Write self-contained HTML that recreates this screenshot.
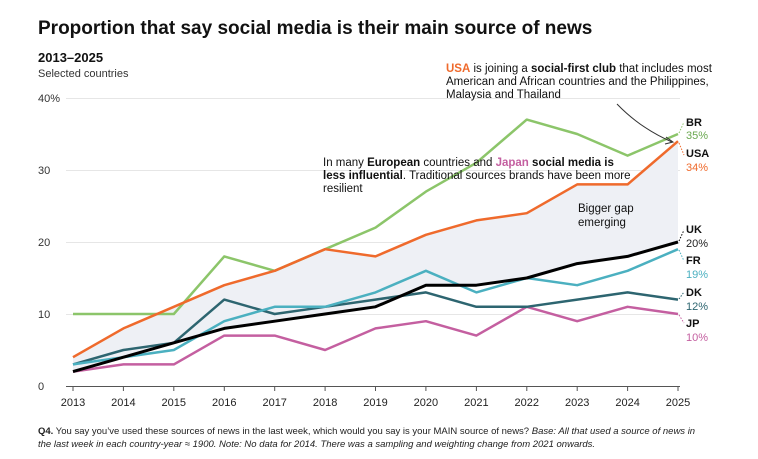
<!DOCTYPE html><html><head><style>
body{margin:0;background:#fff;font-family:"Liberation Sans",sans-serif;}
svg text{font-family:"Liberation Sans",sans-serif;}
</style></head><body>
<svg width="758" height="454" xmlns="http://www.w3.org/2000/svg">
<text x="38" y="34" font-size="19" font-weight="bold" fill="#111">Proportion that say social media is their main source of news</text>
<text x="38" y="62" font-size="13" font-weight="bold" fill="#111">2013–2025</text>
<text x="38" y="77" font-size="11" fill="#333">Selected countries</text>
<g stroke="#e6e6e6" stroke-width="1">
<line x1="66" x2="680" y1="98.5" y2="98.5"/><line x1="66" x2="680" y1="170.5" y2="170.5"/>
<line x1="66" x2="680" y1="242.5" y2="242.5"/><line x1="66" x2="680" y1="314.5" y2="314.5"/>
</g>
<line x1="66" x2="680" y1="386.5" y2="386.5" stroke="#555"/>
<g font-size="11" fill="#333">
<text x="38" y="102">40%</text><text x="38" y="174">30</text><text x="38" y="246">20</text><text x="38" y="318">10</text><text x="38" y="390">0</text>
</g>
<g stroke="#555">
<line x1="73" x2="73" y1="386" y2="391"/><line x1="123.4" x2="123.4" y1="386" y2="391"/><line x1="173.8" x2="173.8" y1="386" y2="391"/><line x1="224.3" x2="224.3" y1="386" y2="391"/><line x1="274.7" x2="274.7" y1="386" y2="391"/><line x1="325.1" x2="325.1" y1="386" y2="391"/><line x1="375.5" x2="375.5" y1="386" y2="391"/><line x1="425.9" x2="425.9" y1="386" y2="391"/><line x1="476.4" x2="476.4" y1="386" y2="391"/><line x1="526.8" x2="526.8" y1="386" y2="391"/><line x1="577.2" x2="577.2" y1="386" y2="391"/><line x1="627.6" x2="627.6" y1="386" y2="391"/><line x1="678" x2="678" y1="386" y2="391"/>
</g>
<g font-size="11" fill="#222" text-anchor="middle">
<text x="73" y="406">2013</text><text x="123.4" y="406">2014</text><text x="173.8" y="406">2015</text><text x="224.3" y="406">2016</text><text x="274.7" y="406">2017</text><text x="325.1" y="406">2018</text><text x="375.5" y="406">2019</text><text x="425.9" y="406">2020</text><text x="476.4" y="406">2021</text><text x="526.8" y="406">2022</text><text x="577.2" y="406">2023</text><text x="627.6" y="406">2024</text><text x="678" y="406">2025</text>
</g>
<g transform="translate(73,386) scale(50.417,-7.2)" fill="none" stroke-width="2.5" stroke-linejoin="round">
<polygon fill="#eef0f5" stroke="none" points="0,4 1,8 2,11 3,14 4,16 5,19 6,18 7,21 8,23 9,24 10,28 11,28 12,34 12,20 11,18 10,17 9,15 8,14 7,14 6,11 5,10 4,9 3,8 2,6 1,4 0,2"/>
<polyline vector-effect="non-scaling-stroke" stroke="#c45fa0" points="0,2 1,3 2,3 3,7 4,7 5,5 6,8 7,9 8,7 9,11 10,9 11,11 12,10"/>
<polyline vector-effect="non-scaling-stroke" stroke="#2d6570" points="0,3 1,5 2,6 3,12 4,10 5,11 6,12 7,13 8,11 9,11 10,12 11,13 12,12"/>
<polyline vector-effect="non-scaling-stroke" stroke="#4bb0c0" points="0,3 1,4 2,5 3,9 4,11 5,11 6,13 7,16 8,13 9,15 10,14 11,16 12,19"/>
<polyline vector-effect="non-scaling-stroke" stroke="#8cc56a" points="0,10 1,10 2,10 3,18 4,16 5,19 6,22 7,27 8,31 9,37 10,35 11,32 12,35"/>
<polyline vector-effect="non-scaling-stroke" stroke="#ef6a2c" points="0,4 1,8 2,11 3,14 4,16 5,19 6,18 7,21 8,23 9,24 10,28 11,28 12,34"/>
<polyline vector-effect="non-scaling-stroke" stroke="#000" stroke-width="3" points="0,2 1,4 2,6 3,8 4,9 5,10 6,11 7,14 8,14 9,15 10,17 11,18 12,20"/>
</g>
<g stroke-dasharray="1.5,1.5" stroke-width="1" fill="none">
<path d="M679,133 L684,122" stroke="#8cc56a"/>
<path d="M679,143 L684,155" stroke="#ef6a2c"/>
<path d="M679,241 L684,230" stroke="#000"/>
<path d="M679,250 L684,261" stroke="#4bb0c0"/>
<path d="M679,299 L684,292" stroke="#2d6570"/>
<path d="M679,315 L684,323" stroke="#c45fa0"/>
</g>
<path d="M617,104 Q640,128 672,142" fill="none" stroke="#333" stroke-width="1"/>
<path d="M666,137 L673,142 L665,144" fill="none" stroke="#333" stroke-width="1"/>
<g font-size="11.5" fill="#111">
<text x="446" y="72"><tspan fill="#ef6a2c" font-weight="bold">USA</tspan> is joining a <tspan font-weight="bold">social-first club</tspan> that includes most</text>
<text x="446" y="85">American and African countries and the Philippines,</text>
<text x="446" y="98">Malaysia and Thailand</text>
<text x="323" y="166">In many <tspan font-weight="bold">European</tspan> countries and <tspan fill="#c45fa0" font-weight="bold">Japan</tspan> <tspan font-weight="bold">social media is</tspan></text>
<text x="323" y="179"><tspan font-weight="bold">less influential</tspan>. Traditional sources brands have been more</text>
<text x="323" y="192">resilient</text>
<text x="578" y="212">Bigger gap</text>
<text x="578" y="226">emerging</text>
</g>
<g font-size="11">
<text x="686" y="126" font-weight="bold" fill="#111">BR</text><text x="686" y="139" fill="#6aa84f">35%</text>
<text x="686" y="157" font-weight="bold" fill="#111">USA</text><text x="686" y="171" fill="#ef6a2c">34%</text>
<text x="686" y="233" font-weight="bold" fill="#111">UK</text><text x="686" y="247" fill="#222">20%</text>
<text x="686" y="264" font-weight="bold" fill="#111">FR</text><text x="686" y="278" fill="#4bb0c0">19%</text>
<text x="686" y="296" font-weight="bold" fill="#111">DK</text><text x="686" y="310" fill="#2d6570">12%</text>
<text x="686" y="327" font-weight="bold" fill="#111">JP</text><text x="686" y="341" fill="#c45fa0">10%</text>
</g>
<g font-size="9.5" fill="#222">
<text x="38" y="434"><tspan font-weight="bold">Q4.</tspan> You say you’ve used these sources of news in the last week, which would you say is your MAIN source of news? <tspan font-style="italic">Base: All that used a source of news in</tspan></text>
<text x="38" y="447" font-style="italic">the last week in each country-year ≈ 1900. Note: No data for 2014. There was a sampling and weighting change from 2021 onwards.</text>
</g>
</svg>
</body></html>
